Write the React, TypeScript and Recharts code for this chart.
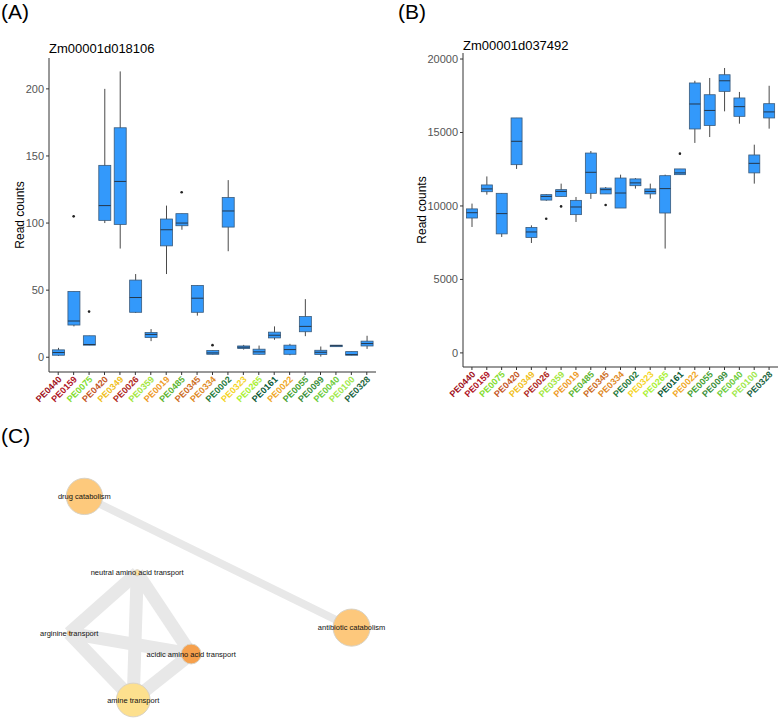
import React from 'react'
import {
  ComposedChart, Bar, Scatter, ScatterChart, XAxis, YAxis, ZAxis,
} from 'recharts'

const FONT = '"Liberation Sans", Arial, sans-serif'

const samples = ['PE0440', 'PE0159', 'PE0075', 'PE0420', 'PE0349', 'PE0026', 'PE0359', 'PE0019', 'PE0485', 'PE0345', 'PE0334',
  'PE0002', 'PE0323', 'PE0265', 'PE0161', 'PE0022', 'PE0055', 'PE0099', 'PE0040', 'PE0100', 'PE0328']
const sampleColors = ['#a0101a', '#b0121e', '#82dc2c', '#c4561e', '#f0c020', '#b0281a', '#a2e63c', '#ee9a26', '#5cb42e', '#cc6c1e', '#e08a1e',
  '#1f7a3a', '#f5d424', '#aaf032', '#0b5a34', '#f0a828', '#46a232', '#3a8e3a', '#6ccc3a', '#a0e84a', '#1a6440']

// panel A: Zm00001d018106
const aMin = [1, 23, 9, 100, 81, 33, 12, 62, 95, 31, 2, 79, 5.7, 2, 13, 1.5, 15.7, 0.5, 8.2, 1.5, 6.2]
const aQ1 = [1.5, 24, 9, 102, 99, 33.5, 14.7, 83, 98, 33.5, 2.2, 97, 6.5, 2.2, 14.4, 2.2, 19, 2, 8.2, 1.5, 8.4]
const aMed = [3.5, 27, 9.5, 113, 131, 44.5, 17, 95, 100, 44, 3.2, 109, 7.5, 4, 16.4, 5.7, 23, 3.7, 8.6, 2, 10.2]
const aQ3 = [5.5, 49, 16, 143, 171, 57.5, 18.4, 103, 107, 53.5, 5, 119, 8.4, 6, 18.7, 9, 30.3, 5.2, 9, 4.2, 12]
const aMax = [7, 49, 16, 200, 213, 62, 21, 113, 107, 53.5, 5, 132, 9.2, 8.7, 23, 10, 43.3, 8, 9, 4.2, 16]
const aOut = [null, 105, 34, null, null, null, null, null, 123, null, 9, null, null, null, null, null, null, null, null, null, null]
const aTicks = [0, 50, 100, 150, 200]

// panel B: Zm00001d037492
const bMin = [8570, 10770, 7890, 12520, 7480, 10350, 10650, 8910, 10480, 10820, 9860, 11180, 10500, 7100, 12130, 14290, 14690, 16440, 15600, 11520, 15260]
const bQ1 = [9180, 10970, 8100, 12810, 7860, 10400, 10650, 9410, 10860, 10820, 9860, 11380, 10820, 9520, 12130, 15240, 15480, 17800, 16100, 12250, 15990]
const bMed = [9540, 11160, 9480, 14400, 8230, 10650, 10990, 9930, 12290, 11110, 10880, 11570, 10990, 11180, 12250, 16940, 16500, 18520, 16760, 12900, 16400]
const bQ3 = [9800, 11430, 10860, 15990, 8540, 10770, 11110, 10380, 13600, 11220, 11900, 11840, 11160, 12060, 12520, 18370, 17570, 18930, 17350, 13470, 16960]
const bMax = [10160, 12010, 10880, 15990, 8680, 10800, 11520, 10610, 13740, 11290, 12130, 11900, 11520, 12130, 12520, 18520, 18710, 19390, 17760, 14170, 18180]
const bOut = [null, null, null, null, null, 9130, 9970, null, null, 10070, null, null, null, null, 13560, null, null, null, null, null, null]
const bTicks = [0, 5000, 10000, 15000, 20000]

// panel C: GO term network
const nodeNames = ['drug catabolism', 'antibiotic catabolism', 'neutral amino acid transport', 'arginine transport', 'acidic amino acid transport', 'amine transport']
const nodeX = [21.1, 87.9, 34.3, 17.3, 47.8, 33.3]
const nodeY = [9.6, 42.4, 28.7, 43.8, 49, 60.5]
const nodeSize = [11.7, 12.2, 0.35, 0.2, 3.5, 10.1]
const nodeColors = ['#fdc97c', '#fdc87c', '#fde2a0', '#f9c47a', '#f6a04c', '#fde08e']
const edgeFrom = [0, 2, 2, 2, 3, 3, 5]
const edgeTo = [1, 3, 5, 4, 5, 4, 4]
const edgeWeight = [0.6, 1, 1, 1, 1, 1, 1]

const buildRows = (mn: number[], q1: number[], md: number[], q3: number[], mx: number[], out: (number | null)[]) =>
  samples.map((s, i) => ({ sample: s, min: mn[i], q1: q1[i], med: md[i], q3: q3[i], max: mx[i], out: out[i] }))

const dataA = buildRows(aMin, aQ1, aMed, aQ3, aMax, aOut)
const dataB = buildRows(bMin, bQ1, bMed, bQ3, bMax, bOut)
const nodes = nodeNames.map((name, i) => ({ name, x: nodeX[i], y: nodeY[i], size: nodeSize[i] }))

function BoxShape(props: any) {
  const { x, y, width, height, payload } = props
  if (!payload || !isFinite(y)) return <g />
  const top = Math.min(y, y + height)
  const bot = Math.max(y, y + height)
  const span = payload.max - payload.min
  const k = span > 0 ? (bot - top) / span : 0
  const py = (v: number) => bot - (v - payload.min) * k
  const cx = x + width / 2
  const bt = py(payload.q3)
  const bb = py(payload.q1)
  return (
    <g>
      <line x1={cx} x2={cx} y1={top} y2={bot} stroke="#4a4a4a" strokeWidth={1} />
      <rect x={x} y={bt} width={width} height={Math.max(bb - bt, 1.5)} fill="#3399fb" stroke="#3a5a7a" strokeWidth={0.8} />
      <line x1={x} x2={x + width} y1={py(payload.med)} y2={py(payload.med)} stroke="#25384c" strokeWidth={1} />
    </g>
  )
}

function OutlierDot(props: any) {
  const { cx, cy, payload } = props
  if (!payload || payload.out == null || !isFinite(cy)) return <g />
  return <circle cx={cx} cy={cy} r={1.3} fill="#222" />
}

function SampleTick(props: any) {
  const { x, y, payload, index } = props
  const ax = x + 4
  const ay = y + 5
  return (
    <text x={ax} y={ay} transform={`rotate(-45, ${ax}, ${ay})`} textAnchor="end"
      fill={sampleColors[index]} fontSize={9} fontWeight="bold" fontFamily={FONT}>
      {payload.value}
    </text>
  )
}

function NodeShape(p: any) {
  const r = Math.max((p.width || 0) / 2, 1.5)
  return (
    <g>
      <circle cx={p.cx} cy={p.cy} r={r} fill={nodeColors[p.index]} stroke="#d9d2c4" strokeWidth={1} />
      <text x={p.cx} y={p.cy + 2.6} textAnchor="middle" fontSize={7.5} fill="#111" fontFamily={FONT}>
        {p.payload?.name}
      </text>
    </g>
  )
}

type BoxProps = {
  data: ReturnType<typeof buildRows>
  domain: [number, number]
  ticks: number[]
  yWidth: number
  margin: { top: number; right: number; bottom: number; left: number }
  pad: number
  boxWidth: number
  labelOffset: number
}

function BoxPanel({ data, domain, ticks, yWidth, margin, pad, boxWidth, labelOffset }: BoxProps) {
  return (
    <ComposedChart width={390} height={420} data={data} margin={margin}>
      <XAxis dataKey="sample" type="category" interval={0} tick={<SampleTick />} tickSize={3} tickMargin={0}
        axisLine={{ stroke: '#333' }} tickLine={{ stroke: '#333' }} height={45} padding={{ left: pad, right: pad }} />
      <YAxis type="number" domain={domain} ticks={ticks} allowDataOverflow width={yWidth}
        tick={{ fontSize: 11, fill: '#555', stroke: 'none' }} tickSize={3} tickMargin={2}
        axisLine={{ stroke: '#333' }} tickLine={{ stroke: '#333' }}
        label={{ value: 'Read counts', angle: -90, position: 'insideLeft', offset: labelOffset, style: { textAnchor: 'middle', fontSize: 12, fill: '#000' } }} />
      <Bar dataKey={(d: any) => [d.min, d.max]} barSize={boxWidth} shape={<BoxShape />} isAnimationActive={false} />
      <Scatter dataKey="out" shape={<OutlierDot />} isAnimationActive={false} />
    </ComposedChart>
  )
}

function Network() {
  return (
    <ScatterChart width={400} height={260} margin={{ top: 0, right: 0, bottom: 0, left: 0 }}>
      <XAxis type="number" dataKey="x" domain={[0, 100]} hide />
      <YAxis type="number" dataKey="y" domain={[0, 65]} reversed hide />
      <ZAxis type="number" dataKey="size" domain={[0, 12]} range={[0, 1080]} />
      {edgeFrom.map((f, i) => (
        <Scatter key={`e${i}`} data={[nodes[f], nodes[edgeTo[i]]]} line={{ stroke: '#e8e8e8', strokeWidth: edgeWeight[i] * 13 }}
          lineType="joint" shape={() => <g />} isAnimationActive={false} />
      ))}
      <Scatter data={nodes} isAnimationActive={false} shape={<NodeShape />} />
    </ScatterChart>
  )
}

export default function App() {
  return (
    <div style={{ position: 'absolute', left: 0, top: 0, width: 778, height: 718, background: '#fff', fontFamily: FONT }}>
      <div style={{ position: 'absolute', left: 0, top: 0 }}>
        <BoxPanel data={dataA} domain={[-11, 223]} ticks={aTicks} yWidth={40}
          margin={{ top: 58, right: 14, bottom: 3, left: 9 }} pad={1.5} boxWidth={12} labelOffset={11} />
      </div>
      <div style={{ position: 'absolute', left: 390, top: 0 }}>
        <BoxPanel data={dataB} domain={[-960, 20410]} ticks={bTicks} yWidth={55}
          margin={{ top: 53, right: 2, bottom: 8, left: 18 }} pad={1.5} boxWidth={11} labelOffset={14} />
      </div>
      <div style={{ position: 'absolute', left: 0, top: 458 }}>
        <Network />
      </div>
      <svg width={778} height={718} style={{ position: 'absolute', left: 0, top: 0, pointerEvents: 'none' }}>
        <text x={1} y={19} fontSize={21} fill="#000">(A)</text>
        <text x={398} y={19} fontSize={21} fill="#000">(B)</text>
        <text x={1} y={443} fontSize={21} fill="#000">(C)</text>
        <text x={49} y={53} fontSize={13} fill="#000">Zm00001d018106</text>
        <text x={463} y={50} fontSize={13} fill="#000">Zm00001d037492</text>
      </svg>
    </div>
  )
}
